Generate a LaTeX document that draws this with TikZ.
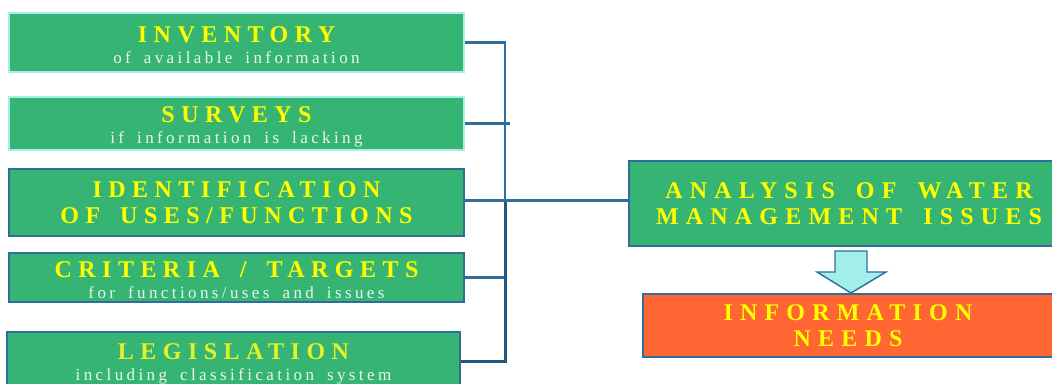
\documentclass[tikz,border=0pt]{standalone}
\usepackage{fontspec}
\setmainfont{Liberation Serif}
\newfontfamily\spacedfont[LetterSpace=27,WordSpace=1.6]{Liberation Serif}
\newfontfamily\widefont[LetterSpace=30,WordSpace=1.6]{Liberation Serif}
\newfontfamily\notefont[LetterSpace=20,WordSpace=1.7]{Liberation Serif}
\usepackage{tikz}
\usetikzlibrary{positioning}
\usetikzlibrary{calc}
\definecolor{boxgreen}{HTML}{36B473}
\definecolor{needorange}{HTML}{FF6633}
\definecolor{titleyellow}{HTML}{FFFF00}
\definecolor{limeyellow}{HTML}{E2F22A}
\definecolor{notewhite}{HTML}{EAF6EE}
\definecolor{linkblue}{HTML}{2F6E9C}
\definecolor{darklink}{HTML}{22587E}
\definecolor{edgecyan}{HTML}{A6EEE6}
\definecolor{arrowcyan}{HTML}{A3EEE8}
\newcommand{\boxtitle}{\spacedfont\bfseries\fontsize{24}{26}\selectfont\color{titleyellow}}
\newcommand{\issuetitle}{\widefont\bfseries\fontsize{24}{26}\selectfont\color{titleyellow}}
\newcommand{\boxnote}{\notefont\fontsize{17}{21}\selectfont\color{notewhite}}
\newcommand{\topgap}{\rule{0pt}{22pt}}
\tikzset{
    infobox/.style={draw=linkblue, line width=1.2pt, fill=boxgreen, rectangle,
        minimum width=455pt, inner sep=0pt, align=center, text=titleyellow,
        font=\fontsize{17}{21}\selectfont},
    lightbox/.style={infobox, draw=edgecyan, line width=2pt},
    issuebox/.style={infobox, minimum width=440pt, font=\fontsize{24}{26}\selectfont},
    needbox/.style={issuebox, fill=needorange, minimum width=410pt},
    link/.style={draw=linkblue, line width=2.6pt},
    bigarrow/.style={draw=linkblue, line width=1.4pt, fill=arrowcyan, line join=miter},
}
\begin{document}
\begin{tikzpicture}[x=1pt, y=-1pt]
	\useasboundingbox (0,0) rectangle (1052,383);
	\clip (0,0) rectangle (1052,383);
	\node[lightbox, minimum height=59pt] (inventory) at (236.5,42.5)
		{{\topgap\boxtitle INVENTORY}\\{\boxnote of available information}};
	\node[lightbox, minimum height=53pt] (surveys) at (236.5,123.5)
		{{\topgap\boxtitle SURVEYS}\\{\boxnote if information is lacking}};
	\node[infobox, minimum height=67pt, font=\fontsize{24}{26}\selectfont] (uses) at (236.5,202.5)
		{{\boxtitle IDENTIFICATION}\\{\boxtitle OF USES/FUNCTIONS}};
	\node[infobox, minimum height=49pt] (criteria) at (236.5,277.5)
		{{\topgap\boxtitle CRITERIA / TARGETS}\\{\boxnote for functions/uses and issues}};
	\node[infobox, minimum height=58pt, minimum width=453pt] (legislation) at (233.5,361)
		{{\topgap\boxtitle\color{limeyellow} LEGISLATION}\\{\boxnote including classification system}};
	\node[issuebox, minimum height=85pt] (analysis) at (849,203.5)
		{{\issuetitle ANALYSIS OF WATER}\\{\issuetitle MANAGEMENT ISSUES}};
	\node[needbox, minimum height=63pt] (needs) at (848,325.5)
		{{\issuetitle INFORMATION}\\{\issuetitle NEEDS}};
	% collecting bus
	\coordinate (bus) at (505,200.5);
	\coordinate (stub) at (510,123.5);
	\draw[link] (inventory.east) -| (bus);
	\draw[link] (surveys.east) -- (stub);
	\draw[link] (criteria.east) -| (bus);
	\draw[link, draw=darklink, line width=3pt] (legislation.east) -| (bus);
	\draw[link] (uses.east |- bus) -- (analysis.west |- bus);
	% arrow down to the needs
	\draw[bigarrow] (835,251) -- (867,251) -- (867,272) -- (886,272) -- (851,293)
		-- (817,272) -- (835,272) -- cycle;
\end{tikzpicture}
\end{document}
